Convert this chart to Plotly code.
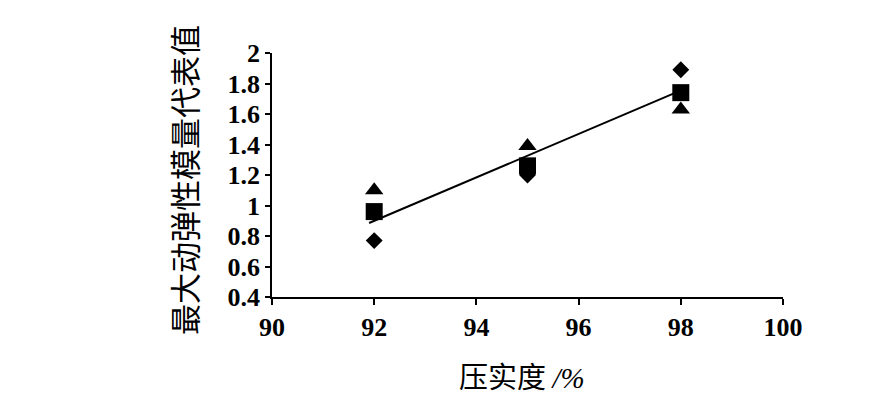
import plotly.graph_objects as go

# Data
compaction = [92, 95, 98]
series_diamond = [0.77, 1.20, 1.89]
series_square = [0.96, 1.26, 1.74]
series_triangle = [1.10, 1.39, 1.63]
trend_x = [91.9, 97.9]
trend_y = [0.885, 1.74]

y_tickvals = [0.4, 0.6, 0.8, 1.0, 1.2, 1.4, 1.6, 1.8, 2.0]
y_ticktext = ["0.4", "0.6", "0.8", "1", "1.2", "1.4", "1.6", "1.8", "2"]
x_tickvals = [90, 92, 94, 96, 98, 100]
x_ticktext = ["90", "92", "94", "96", "98", "100"]

fig = go.Figure()
fig.add_trace(go.Scatter(x=compaction, y=series_triangle, mode="markers",
                         marker=dict(symbol="triangle-up", size=16, color="black"),
                         showlegend=False, name="系列3"))
fig.add_trace(go.Scatter(x=compaction, y=series_diamond, mode="markers",
                         marker=dict(symbol="diamond", size=13, color="black"),
                         showlegend=False, name="系列1"))
fig.add_trace(go.Scatter(x=compaction, y=series_square, mode="markers",
                         marker=dict(symbol="square", size=17, color="black"),
                         showlegend=False, name="系列2"))
fig.add_trace(go.Scatter(x=trend_x, y=trend_y, mode="lines",
                         line=dict(color="black", width=2),
                         showlegend=False, name="线性"))

tick_font = dict(family="Liberation Serif, Times New Roman, serif", size=26,
                 color="black", weight="bold")

fig.update_layout(
    width=870, height=413, autosize=False,
    margin=dict(l=264, r=95, t=45, b=124),
    paper_bgcolor="white", plot_bgcolor="white",
    font=dict(family="Liberation Serif, Times New Roman, serif", size=26, color="black"),
    xaxis=dict(range=[90, 100], tickvals=x_tickvals, ticktext=x_ticktext,
               showline=True, linecolor="black", linewidth=1.5,
               ticks="outside", ticklen=6, tickwidth=1.5, tickcolor="black",
               showgrid=False, zeroline=False, tickfont=tick_font),
    yaxis=dict(range=[0.4, 2.0], tickvals=y_tickvals, ticktext=y_ticktext,
               showline=True, linecolor="black", linewidth=1.5,
               ticks="outside", ticklen=5, tickwidth=1.5, tickcolor="black",
               showgrid=False, zeroline=False, tickfont=tick_font),
    annotations=[
        dict(text="压实度 <span style='font-family:Liberation Serif'><i>/%</i></span>",
             xref="paper", yref="paper", x=0.489, y=-0.32,
             xanchor="center", yanchor="middle", showarrow=False,
             font=dict(family="Noto Sans CJK SC", size=29, color="black")),
        dict(text="最大动弹性模量代表值", xref="paper", yref="paper", x=-0.172, y=0.48,
             xanchor="center", yanchor="middle", textangle=-90, showarrow=False,
             font=dict(family="Noto Sans CJK SC", size=31, color="black")),
    ],
)

fig.write_html("out.html")
